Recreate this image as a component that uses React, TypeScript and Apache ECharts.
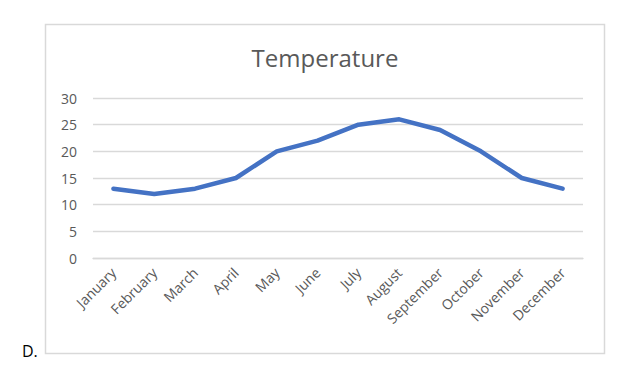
import React, { useEffect, useRef } from "react";
import * as echarts from "echarts";

const months = [
  "January", "February", "March", "April", "May", "June",
  "July", "August", "September", "October", "November", "December",
];
const temperature = [13, 12, 13, 15, 20, 22, 25, 26, 24, 20, 15, 13];
const yTicks = [0, 5, 10, 15, 20, 25, 30];
const chartTitle = "Temperature";
const cornerLabel = "D.";

const FONT = "Open Sans";

export default function App() {
  const ref = useRef<HTMLDivElement>(null);
  useEffect(() => {
    if (!ref.current) return;
    const chart = echarts.init(ref.current, null, { renderer: "svg" });
    chart.setOption({
      animation: false,
      backgroundColor: "#ffffff",
      grid: { left: 93, right: 44, top: 98, bottom: 112, containLabel: false },
      xAxis: {
        type: "category",
        data: months,
        boundaryGap: true,
        axisLine: { show: true, lineStyle: { color: "#d9d9d9", width: 1.3 } },
        axisTick: { show: false },
        axisLabel: {
          rotate: 45,
          interval: 0,
          color: "#595959",
          fontSize: 14,
          fontFamily: FONT,
          margin: 12,
        },
      },
      yAxis: {
        type: "value",
        min: yTicks[0],
        max: yTicks[yTicks.length - 1],
        interval: 5,
        axisLine: { show: false },
        axisTick: { show: false },
        splitLine: { lineStyle: { color: "#d9d9d9", width: 1.3 } },
        axisLabel: {
          color: "#595959",
          fontSize: 14,
          fontFamily: FONT,
          margin: 16,
        },
      },
      series: [
        {
          type: "line",
          data: temperature,
          showSymbol: false,
          symbol: "none",
          lineStyle: { color: "#4472C4", width: 4.5, cap: "round", join: "round" },
          itemStyle: { color: "#4472C4" },
        },
      ],
      graphic: [
        {
          type: "rect",
          shape: { x: 45.5, y: 24.5, width: 559, height: 329 },
          style: { fill: "none", stroke: "#d9d9d9", lineWidth: 1.5 },
          silent: true,
        },
        {
          type: "text",
          x: 325,
          y: 57,
          style: {
            text: chartTitle,
            fontSize: 24,
            fontFamily: FONT,
            fill: "#595959",
            align: "center",
            verticalAlign: "middle",
          },
        },
        {
          type: "text",
          x: 22,
          y: 351,
          style: {
            text: cornerLabel,
            fontSize: 16,
            fontFamily: FONT,
            fill: "#000000",
            align: "left",
            verticalAlign: "middle",
          },
        },
      ],
    });
    return () => chart.dispose();
  }, []);
  return (
    <div
      ref={ref}
      style={{ position: "absolute", left: 0, top: 0, width: 627, height: 370, background: "#fff" }}
    />
  );
}
